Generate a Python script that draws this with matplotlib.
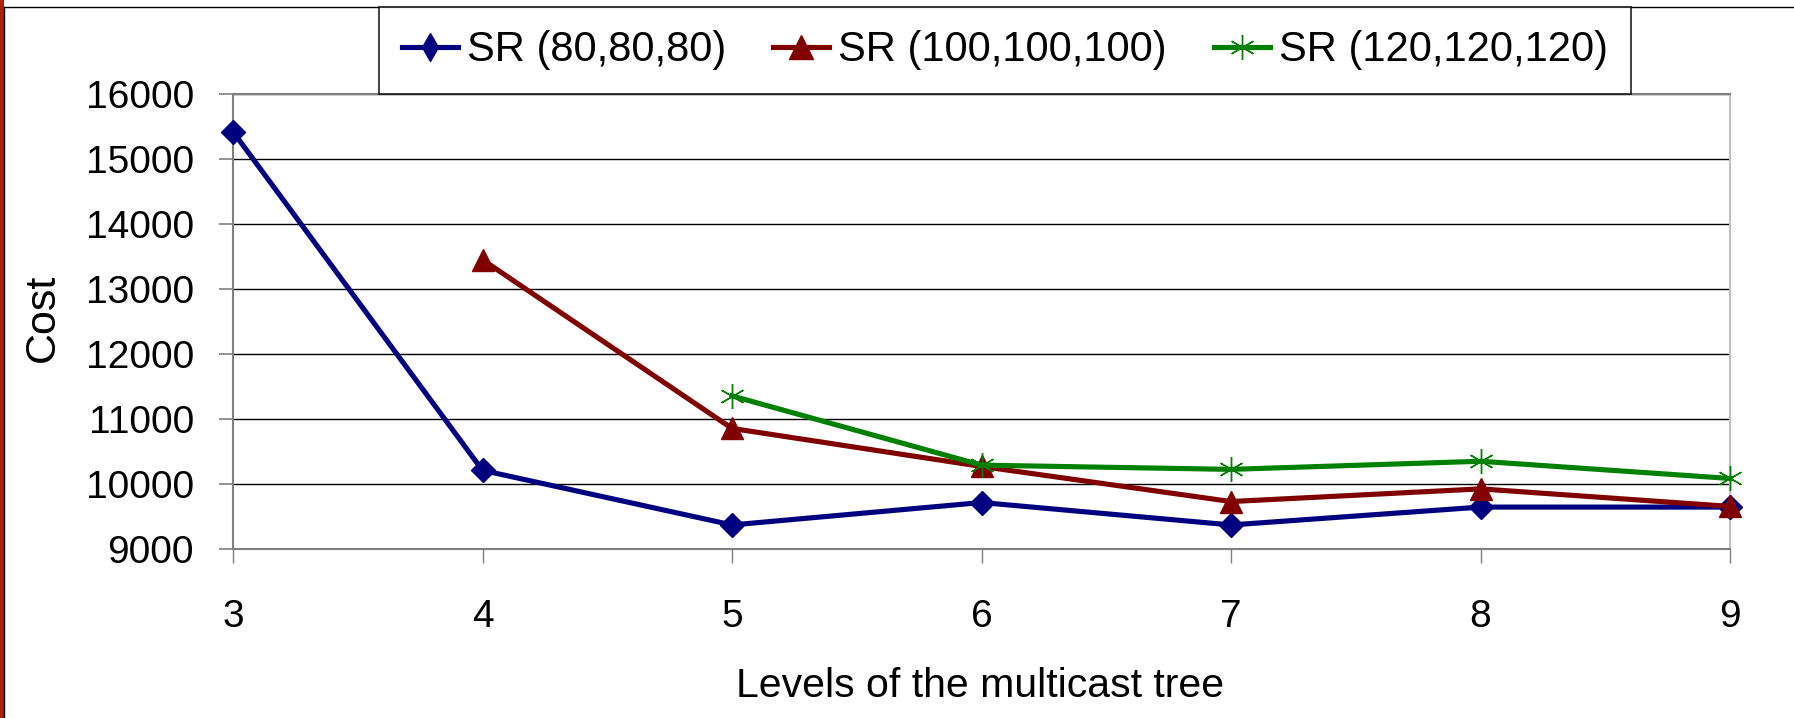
import matplotlib
matplotlib.use("Agg")
import matplotlib.pyplot as plt
from matplotlib.lines import Line2D
from matplotlib.patches import Rectangle

plt.rcParams['font.family'] = ['Liberation Sans', 'DejaVu Sans']

# data
levels = [3, 4, 5, 6, 7, 8, 9]
sr80 = [15420, 10210, 9370, 9715, 9370, 9645, 9645]
levels100 = [4, 5, 6, 7, 8, 9]
sr100 = [13450, 10855, 10270, 9730, 9925, 9655]
levels120 = [5, 6, 7, 8, 9]
sr120 = [11355, 10290, 10225, 10350, 10085]
labels = ['SR (80,80,80)', 'SR (100,100,100)', 'SR (120,120,120)']
yticks = list(range(9000, 16001, 1000))

W, H = 1794, 718
fig = plt.figure(figsize=(W / 100, H / 100), dpi=100)
ax = fig.add_axes([233 / W, 1 - 549 / H, (1730 - 233) / W, (549 - 94) / H])

blue, red, green = '#000080', '#800000', '#008000'
star = (6, 2, 0)
lw = 3.7

ax.plot(levels, sr80, color=blue, lw=lw, marker='D', ms=12, mec=blue, mfc=blue, clip_on=False, zorder=3)
ax.plot(levels100, sr100, color=red, lw=lw, marker='^', ms=16, mec=red, mfc=red, clip_on=False, zorder=4)
ax.plot(levels120, sr120, color=green, lw=lw, marker=star, ms=18, mec=green, mew=1.0, clip_on=False, zorder=5)

ax.set_xlim(3, 9)
ax.set_ylim(9000, 16000)
ax.set_xticks(levels)
ax.set_yticks(yticks)
ax.yaxis.grid(True, color='black', lw=1.0)
ax.set_axisbelow(True)

for side in ['left', 'bottom', 'top']:
    ax.spines[side].set_color('#808080')
    ax.spines[side].set_linewidth(1.5)
ax.spines['right'].set_color('#c0c0c0')
ax.spines['right'].set_linewidth(1.5)

ax.tick_params(axis='y', direction='out', length=10, width=1.2, color='#808080', pad=18, labelsize=28)
ax.tick_params(axis='x', direction='out', length=10, width=1.0, color='#808080', pad=26, labelsize=28)

fig.text(43 / W, 1 - 318 / H, 'Cost', rotation=90, ha='center', va='center', fontsize=31)
fig.text(980 / W, 1 - 686 / H, 'Levels of the multicast tree', ha='center', va='center', fontsize=29.5)

# legend handles
handles = [
    Line2D([], [], color=blue, lw=lw, marker='d', ms=14, mec=blue, mfc=blue),
    Line2D([], [], color=red, lw=lw, marker='^', ms=17, mec=red, mfc=red),
    Line2D([], [], color=green, lw=lw, marker=star, ms=18, mec=green, mew=1.0),
]
leg = fig.legend(handles, labels, loc='upper left', ncol=3, mode='expand',
                 bbox_to_anchor=(379 / W, 1 - 7 / H, (1631 - 379) / W, 0.0),
                 bbox_transform=fig.transFigure, fontsize=30, frameon=True,
                 fancybox=False, borderaxespad=0, borderpad=0.56,
                 handlelength=1.34, handletextpad=0.22, columnspacing=1.3)
leg.get_frame().set_edgecolor('black')
leg.get_frame().set_linewidth(1.3)

# outer chart-area borders
fig.add_artist(Rectangle((0, 0), 3.5 / W, 1, transform=fig.transFigure, color='#b0200f', lw=0))
fig.add_artist(Line2D([3.5 / W, 3.5 / W], [0, 1 - 7 / H], transform=fig.transFigure, color='black', lw=1.0))
fig.add_artist(Line2D([3.5 / W, 1], [1 - 7 / H, 1 - 7 / H], transform=fig.transFigure, color='black', lw=1.0))

fig.savefig('out.png', dpi=100)
